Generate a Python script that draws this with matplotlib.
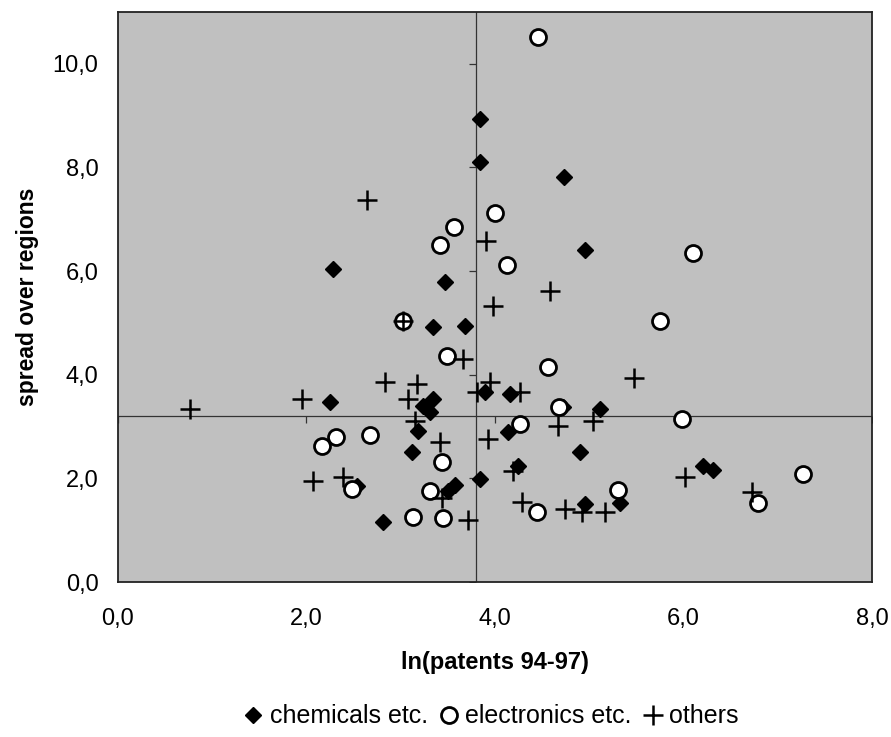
import matplotlib.pyplot as plt
from matplotlib.ticker import FuncFormatter

plt.rcParams['font.family'] = ['Liberation Sans', 'DejaVu Sans']

# chemicals etc.
chem_x = [3.84, 3.84, 4.73, 2.28, 3.47, 4.95, 3.34, 3.68, 3.89, 2.25, 3.24, 3.34,
          3.31, 3.18, 3.12, 2.54, 3.50, 3.58, 3.84, 2.81, 4.16, 4.72, 5.11, 4.14,
          4.90, 4.24, 6.21, 6.31, 5.33, 4.95]
chem_y = [8.93, 8.10, 7.82, 6.04, 5.79, 6.41, 4.93, 4.95, 3.67, 3.47, 3.40, 3.53,
          3.28, 2.91, 2.50, 1.85, 1.75, 1.88, 1.98, 1.15, 3.63, 3.38, 3.34, 2.89,
          2.50, 2.23, 2.23, 2.17, 1.52, 1.50]

# electronics etc.
elec_x = [4.46, 4.00, 3.57, 3.42, 4.13, 6.10, 3.02, 3.49, 2.67, 2.31, 2.16, 3.44,
          2.48, 3.31, 3.13, 3.45, 5.75, 4.56, 4.68, 4.27, 5.98, 7.27, 6.79, 5.30, 4.45]
elec_y = [10.52, 7.13, 6.85, 6.50, 6.12, 6.35, 5.03, 4.37, 2.83, 2.80, 2.62, 2.31,
          1.80, 1.75, 1.26, 1.24, 5.03, 4.14, 3.38, 3.05, 3.15, 2.08, 1.53, 1.77, 1.36]

# others
oth_x = [2.64, 3.90, 4.58, 3.98, 3.02, 3.66, 2.83, 3.17, 3.81, 3.95, 1.95, 0.76,
         3.08, 3.15, 3.42, 3.93, 2.07, 2.39, 3.44, 3.71, 5.47, 4.27, 5.04, 4.67,
         4.19, 6.02, 6.73, 4.29, 4.74, 4.92, 5.17]
oth_y = [7.38, 6.58, 5.61, 5.32, 5.03, 4.31, 3.86, 3.83, 3.67, 3.86, 3.53, 3.34,
         3.53, 3.11, 2.70, 2.76, 1.94, 2.02, 1.63, 1.20, 3.94, 3.67, 3.11, 3.01,
         2.14, 2.02, 1.73, 1.55, 1.40, 1.36, 1.36]

x_cross = 3.8
y_cross = 3.2
ticks_x = [0, 2, 4, 6, 8]
ticks_y = [0, 2, 4, 6, 8, 10]

fig = plt.figure(figsize=(8.91, 7.37), dpi=100)
ax = fig.add_axes([0.1324, 0.2103, 0.8463, 0.7734])
ax.set_facecolor('#c0c0c0')

ax.axvline(x_cross, color='#333333', lw=0.9, zorder=1)
ax.axhline(y_cross, color='#333333', lw=0.9, zorder=1)
# small tick marks on the crossing lines
ax.plot([x_cross] * len(ticks_y), ticks_y, ls='none', marker=0, ms=5,
        color='#333333', mew=0.9, zorder=1)
ax.plot(ticks_x, [y_cross] * len(ticks_x), ls='none', marker=3, ms=5,
        color='#333333', mew=0.9, zorder=1)

ax.plot(chem_x, chem_y, ls='none', marker='D', ms=8.5, color='black',
        label='chemicals etc.', zorder=3)
ax.plot(elec_x, elec_y, ls='none', marker='o', ms=11.5, mfc='white', mec='black',
        mew=2, label='electronics etc.', zorder=3)
ax.plot(oth_x, oth_y, ls='none', marker='+', ms=15, color='black', mew=1.8,
        label='others', zorder=4)

ax.set_xlim(0, 8)
ax.set_ylim(0, 11)
ax.set_xticks(ticks_x)
ax.set_yticks(ticks_y)
fmt = FuncFormatter(lambda v, p: f'{v:.1f}'.replace('.', ','))
ax.xaxis.set_major_formatter(fmt)
ax.yaxis.set_major_formatter(fmt)
ax.tick_params(length=0, labelsize=17)
ax.tick_params(axis='x', pad=19)
ax.tick_params(axis='y', pad=14)
for s in ax.spines.values():
    s.set_linewidth(1.3)
    s.set_color('#222222')

ax.set_xlabel('ln(patents 94-97)', fontsize=17, fontweight='bold', labelpad=15)
ax.set_ylabel('spread over regions', fontsize=16.5, fontweight='bold', labelpad=10)

fig.legend(loc='lower center', bbox_to_anchor=(0.551, -0.012), ncol=3, frameon=False,
           fontsize=18, handletextpad=0.25, columnspacing=0.45, markerscale=1.0,
           handlelength=0.8, borderpad=0.2)

fig.savefig('out.png', dpi=100)
